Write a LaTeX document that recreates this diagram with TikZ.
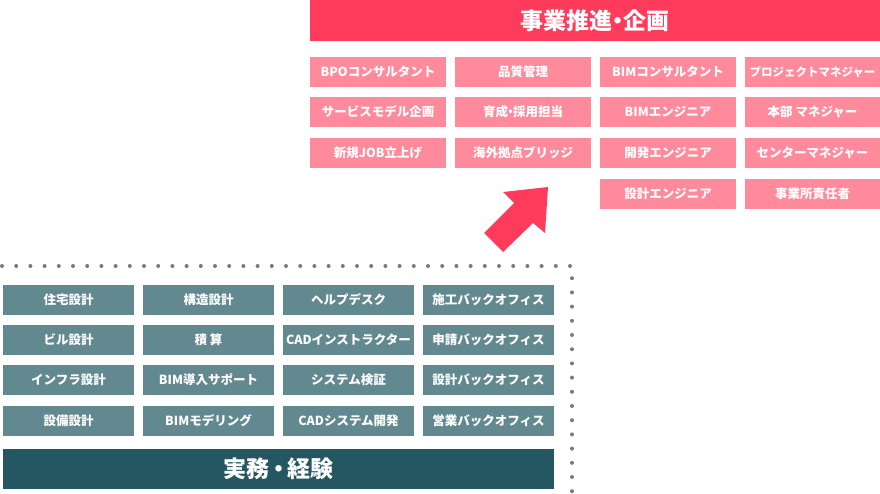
\documentclass[tikz,border=0pt]{standalone}
\usepackage{fontspec}
\setmainfont{Noto Sans CJK JP}
\definecolor{kikaku}{HTML}{FF3B5C}
\definecolor{kikakubox}{HTML}{FF8A9B}
\definecolor{jitsumu}{HTML}{245761}
\definecolor{jitsumubox}{HTML}{62898F}
\definecolor{dotgray}{HTML}{7A7A7A}
\newcommand{\nakaguro}[1]{\hspace{-#1em}・\hspace{-#1em}}

\begin{document}
\begin{tikzpicture}[x=1pt,y=-1pt,
    pinkbox/.style={fill=kikakubox,text=white,minimum width=136pt,minimum height=30pt,inner sep=0pt,font=\fontsize{12.5}{12.5}\selectfont\bfseries},
    greenbox/.style={fill=jitsumubox,text=white,minimum width=131pt,minimum height=30pt,inner sep=0pt,font=\fontsize{12.5}{12.5}\selectfont\bfseries},
    titlebar/.style={text=white,inner sep=0pt,font=\fontsize{23}{23}\selectfont\bfseries},
    dotline/.style={dotgray,line width=4pt,line cap=round,dash pattern=on 0pt off 14.2pt},
]
        \useasboundingbox (0,0) rectangle (880,493);
        % upper block
        \node[titlebar,fill=kikaku,minimum width=570pt,minimum height=41pt] (kikaku) at (595,20.5) {事業推進\nakaguro{0.25}企画};
        \node[pinkbox] (bpo) at (378,72) {BPOコンサルタント};
        \node[pinkbox] (service) at (378,112) {サービスモデル企画};
        \node[pinkbox] (newjob) at (378,153) {新規JOB立上げ};
        \node[pinkbox] (quality) at (523,72) {品質管理};
        \node[pinkbox] (ikusei) at (523,112) {育成\nakaguro{0.3}採用担当};
        \node[pinkbox] (bridge) at (523,153) {海外拠点ブリッジ};
        \node[pinkbox] (bimcon) at (668,72) {BIMコンサルタント};
        \node[pinkbox] (bimeng) at (668,112) {BIMエンジニア};
        \node[pinkbox] (kaihatsu) at (668,153) {開発エンジニア};
        \node[pinkbox] (sekkeieng) at (668,193.5) {設計エンジニア};
        \node[pinkbox,font=\fontsize{11.5}{11.5}\selectfont\bfseries] (pm) at (812.5,72) {プロジェクトマネジャー};
        \node[pinkbox] (honbu) at (812.5,112) {本部 マネジャー};
        \node[pinkbox] (center) at (812.5,153) {センターマネジャー};
        \node[pinkbox] (jigyosho) at (812.5,193.5) {事業所責任者};
        % arrow
        \fill[kikaku] (484,233)--(514,203)--(503,192)--(548,187)--(545,233)--(533,223)--(503,252)--cycle;
        % dotted frame
        \coordinate (dotL) at (2,266);
        \coordinate (dotC) at (572,266);
        \coordinate (dotB) at (572,492);
        \draw[dotline] (dotL)--(dotC)--(dotB);
        % lower block
        \node[greenbox] (jutaku) at (68.5,299.5) {住宅設計};
        \node[greenbox] (biru) at (68.5,339.5) {ビル設計};
        \node[greenbox] (infra) at (68.5,379.5) {インフラ設計};
        \node[greenbox] (setsubi) at (68.5,421) {設備設計};
        \node[greenbox] (kozo) at (208.5,299.5) {構造設計};
        \node[greenbox] (sekisan) at (208.5,339.5) {積 算};
        \node[greenbox] (bimdonyu) at (208.5,379.5) {BIM導入サポート};
        \node[greenbox] (bimmodel) at (208.5,421) {BIMモデリング};
        \node[greenbox] (help) at (348.5,299.5) {ヘルプデスク};
        \node[greenbox] (cadinst) at (348.5,339.5) {CADインストラクター};
        \node[greenbox] (kensho) at (348.5,379.5) {システム検証};
        \node[greenbox] (caddev) at (348.5,421) {CADシステム開発};
        \node[greenbox] (seko) at (488.5,299.5) {施工バックオフィス};
        \node[greenbox] (shinsei) at (488.5,339.5) {申請バックオフィス};
        \node[greenbox] (sekkeibo) at (488.5,379.5) {設計バックオフィス};
        \node[greenbox] (eigyo) at (488.5,421) {営業バックオフィス};
        \node[titlebar,fill=jitsumu,minimum width=551pt,minimum height=40pt] (jitsumu) at (278.5,469) {実務\nakaguro{0.12}経験};
\end{tikzpicture}
\end{document}
